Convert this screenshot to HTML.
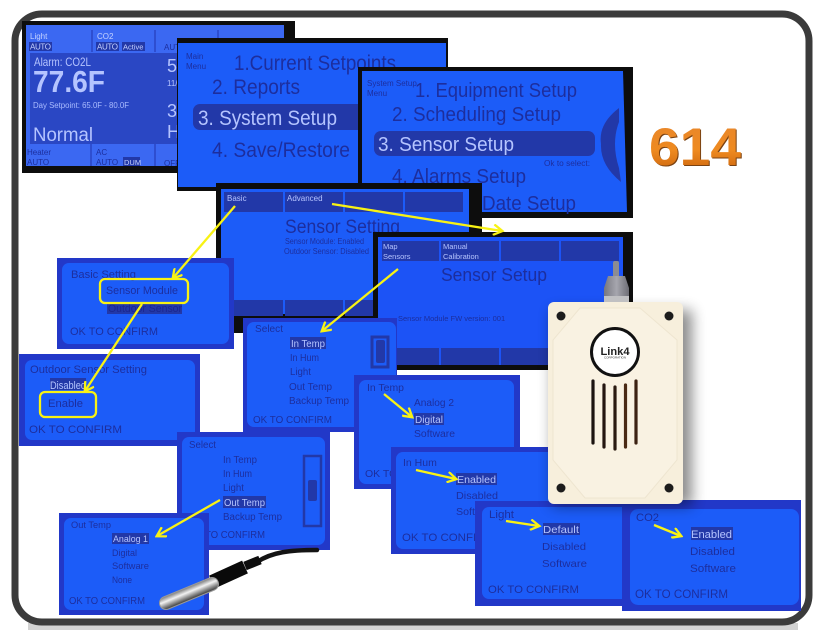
<!DOCTYPE html>
<html><head><meta charset="utf-8"><style>
html,body{margin:0;padding:0;background:#fff;width:837px;height:642px;overflow:hidden}
svg{display:block}
text{font-family:"Liberation Sans",sans-serif}
</style></head><body>
<svg width="837" height="642" viewBox="0 0 837 642" xmlns="http://www.w3.org/2000/svg">
<defs>
<linearGradient id="or" x1="0" y1="0" x2="0" y2="1"><stop offset="0" stop-color="#e8862c"/><stop offset=".55" stop-color="#ee8a20"/><stop offset="1" stop-color="#c45c08"/></linearGradient>
<linearGradient id="pr" gradientUnits="userSpaceOnUse" x1="185.500" y1="587" x2="190.500" y2="599"><stop offset="0" stop-color="#666"/><stop offset=".45" stop-color="#f2f2f2"/><stop offset="1" stop-color="#4a4a4a"/></linearGradient>
<linearGradient id="nut" x1="0" y1="0" x2="1" y2="0"><stop offset="0" stop-color="#77777f"/><stop offset=".5" stop-color="#a6a6ae"/><stop offset="1" stop-color="#6e6e76"/></linearGradient>
<filter id="sh" x="-20%" y="-20%" width="150%" height="150%"><feGaussianBlur stdDeviation="7"/></filter>
<filter id="b" x="0" y="0" width="100%" height="100%"><feGaussianBlur stdDeviation="0.35"/></filter>
<marker id="a" markerWidth="5" markerHeight="5" refX="4" refY="2.5" orient="auto" markerUnits="strokeWidth"><path d="M0.3 .2L4.2 2.5L.3 4.8" fill="none" stroke="#f8f214" stroke-width="1"/></marker>
</defs>
<rect x="28" y="623" width="770" height="7" fill="#d2d2d2"/>
<rect x="15" y="14" width="794" height="608" rx="27" fill="#fff" stroke="#3b3b3b" stroke-width="7"/>

<g filter="url(#b)">
<!-- Screen 1 -->
<rect x="22" y="21" width="273" height="152" fill="#0c0c10"/>
<rect x="26" y="25" width="258" height="141" fill="#3a68f2"/>
<rect x="30" y="53" width="250" height="91" fill="#2c46c4"/>
<path d="M92 30V52M155 30V52M218 30V52M91 144V166M155 144V166" stroke="#2c46c4" stroke-width="1.5"/>
<text x="30" y="39" font-size="8" fill="#c5d2ff">Light</text>
<rect x="29" y="42" width="23" height="9" fill="#2438a8"/><text x="30" y="49.5" font-size="8" fill="#c5d2ff" textLength="21">AUTO</text>
<text x="97" y="39" font-size="8" fill="#c5d2ff">CO2</text>
<rect x="96" y="42" width="23" height="9" fill="#2438a8"/><text x="97" y="49.5" font-size="8" fill="#c5d2ff" textLength="21">AUTO</text>
<rect x="122" y="42" width="23" height="9" fill="#2438a8"/><text x="123" y="49.5" font-size="7.5" fill="#c5d2ff">Active</text>
<text x="164" y="50" font-size="8" fill="#1e2f9e">AUTO</text>
<text x="34" y="66" font-size="12" fill="#b4c4ff" textLength="57" lengthAdjust="spacingAndGlyphs">Alarm: CO2L</text>
<text x="33" y="92" font-size="31" font-weight="bold" fill="#b4c4ff" textLength="72" lengthAdjust="spacingAndGlyphs">77.6F</text>
<text x="33" y="108" font-size="8" fill="#a9bcff" textLength="96" lengthAdjust="spacingAndGlyphs">Day Setpoint: 65.0F - 80.0F</text>
<text x="33" y="141" font-size="19" fill="#b4c4ff" textLength="60" lengthAdjust="spacingAndGlyphs">Normal</text>
<text x="167" y="72" font-size="18" fill="#b4c4ff">5</text>
<text x="167" y="86" font-size="8" fill="#b4c4ff">11/</text>
<text x="167" y="117" font-size="18" fill="#b4c4ff">3</text>
<text x="167" y="138" font-size="18" fill="#b4c4ff">H</text>
<text x="27" y="155" font-size="8" fill="#1e2f9e">Heater</text><text x="27" y="165" font-size="8" fill="#1e2f9e">AUTO</text>
<text x="96" y="155" font-size="8" fill="#1e2f9e">AC</text><text x="96" y="165" font-size="8" fill="#1e2f9e">AUTO</text>
<rect x="123" y="157" width="17" height="9" fill="#2438a8"/><text x="124" y="165" font-size="7.5" fill="#c5d2ff">DUM</text>
<text x="164" y="166" font-size="8" fill="#1e2f9e">OFF</text>

<!-- Screen 2 -->
<rect x="177" y="38" width="271" height="153" fill="#0c0c10"/>
<rect x="178" y="43" width="268" height="144" fill="#1f5cf8"/>
<text x="186" y="59" font-size="8" fill="#1e2f9e">Main</text><text x="186" y="69" font-size="8" fill="#1e2f9e">Menu</text>
<text x="234" y="70" font-size="21" fill="#1e2f9e" textLength="162" lengthAdjust="spacingAndGlyphs">1.Current Setpoints</text>
<text x="212" y="94" font-size="21" fill="#1e2f9e" textLength="88" lengthAdjust="spacingAndGlyphs">2. Reports</text>
<rect x="193" y="104" width="180" height="26" rx="7" fill="#2438a8"/>
<text x="198" y="125" font-size="21" fill="#b4c4ff" textLength="139" lengthAdjust="spacingAndGlyphs">3. System Setup</text>
<text x="212" y="157" font-size="21" fill="#1e2f9e" textLength="138" lengthAdjust="spacingAndGlyphs">4. Save/Restore</text>

<!-- Screen 3 -->
<rect x="358" y="67" width="275" height="151" fill="#0c0c10"/>
<path d="M362 71H623L627 212H362Z" fill="#1f5cf8"/>
<text x="367" y="86" font-size="8" fill="#1e2f9e">System Setup</text><text x="367" y="96" font-size="8" fill="#1e2f9e">Menu</text>
<text x="415" y="97" font-size="20" fill="#1e2f9e" textLength="162" lengthAdjust="spacingAndGlyphs">1. Equipment Setup</text>
<text x="392" y="121" font-size="20" fill="#1e2f9e" textLength="169" lengthAdjust="spacingAndGlyphs">2. Scheduling Setup</text>
<rect x="374" y="131" width="221" height="25" rx="7" fill="#2438a8"/>
<text x="378" y="151" font-size="20" fill="#b4c4ff" textLength="136" lengthAdjust="spacingAndGlyphs">3. Sensor Setup</text>
<text x="544" y="166" font-size="8" fill="#1e2f9e" textLength="46" lengthAdjust="spacingAndGlyphs">Ok to select:</text>
<text x="392" y="183" font-size="20" fill="#1e2f9e" textLength="134" lengthAdjust="spacingAndGlyphs">4. Alarms Setup</text>
<text x="482" y="210" font-size="20" fill="#1e2f9e" textLength="94" lengthAdjust="spacingAndGlyphs">Date Setup</text>
<path d="M619 108Q598 124 601 144Q600 165 621 182L619 168Q611 143 619 122Z" fill="#2438a8"/>

<!-- Screen 4 -->
<rect x="216" y="183" width="266" height="150" fill="#0c0c10"/>
<rect x="221" y="189" width="248" height="125" fill="#1f5cf8"/>
<rect x="224" y="192" width="59" height="20" fill="#2438a8"/>
<rect x="285" y="192" width="58" height="20" fill="#2438a8"/>
<rect x="345" y="192" width="58" height="20" fill="#2438a8"/>
<rect x="405" y="192" width="58" height="20" fill="#2438a8"/>
<text x="227" y="201" font-size="8" fill="#b4c4ff">Basic</text>
<text x="287" y="201" font-size="8" fill="#b4c4ff">Advanced</text>
<text x="285" y="233" font-size="19" fill="#1e2f9e" textLength="115" lengthAdjust="spacingAndGlyphs">Sensor Setting</text>
<text x="285" y="244" font-size="8" fill="#1e2f9e" textLength="79" lengthAdjust="spacingAndGlyphs">Sensor Module: Enabled</text>
<text x="284" y="254" font-size="8" fill="#1e2f9e" textLength="85" lengthAdjust="spacingAndGlyphs">Outdoor Sensor: Disabled</text>
<rect x="224" y="300" width="59" height="16" fill="#2438a8"/><rect x="285" y="300" width="58" height="16" fill="#2438a8"/><rect x="345" y="300" width="30" height="16" fill="#2438a8"/>

<!-- Screen 5 -->
<rect x="373" y="232" width="260" height="138" fill="#0c0c10"/>
<rect x="378" y="237" width="245" height="128" fill="#1a52f6"/>
<rect x="382" y="241" width="57" height="20" fill="#2438a8"/>
<rect x="441" y="241" width="58" height="20" fill="#2438a8"/>
<rect x="501" y="241" width="58" height="20" fill="#2438a8"/>
<rect x="561" y="241" width="58" height="20" fill="#2438a8"/>
<text x="383" y="249" font-size="7.500" fill="#b4c4ff">Map</text><text x="383" y="259" font-size="7.500" fill="#b4c4ff">Sensors</text>
<text x="443" y="249" font-size="7.500" fill="#b4c4ff">Manual</text><text x="443" y="259" font-size="7.500" fill="#b4c4ff">Calibration</text>
<text x="441" y="281" font-size="18" fill="#1e2f9e" textLength="106" lengthAdjust="spacingAndGlyphs">Sensor Setup</text>
<text x="398" y="321" font-size="7.500" fill="#1e2f9e">Sensor Module FW version: 001</text>
<rect x="382" y="348" width="57" height="17" fill="#2438a8"/><rect x="441" y="348" width="58" height="17" fill="#2438a8"/><rect x="501" y="348" width="58" height="17" fill="#2438a8"/>

<!-- Basic Setting -->
<rect x="57" y="258" width="177" height="91" fill="#2238c8"/>
<rect x="62" y="263" width="167" height="81" rx="7" fill="#1f5cf8"/>
<text x="71" y="278" font-size="11" fill="#1e2f9e" textLength="65" lengthAdjust="spacingAndGlyphs">Basic Setting</text>
<text x="106" y="294" font-size="11" fill="#1e2f9e" textLength="72" lengthAdjust="spacingAndGlyphs">Sensor Module</text>
<rect x="107" y="303" width="75" height="11" fill="#2438a8"/>
<text x="108" y="312" font-size="11" fill="#1a2890" textLength="74" lengthAdjust="spacingAndGlyphs">Outdoor Sensor</text>
<text x="70" y="335" font-size="11" fill="#1e2f9e" textLength="88" lengthAdjust="spacingAndGlyphs">OK TO CONFIRM</text>

<!-- Outdoor -->
<rect x="19" y="354" width="181" height="92" fill="#2238c8"/>
<rect x="25" y="360" width="170" height="80" rx="7" fill="#1f5cf8"/>
<text x="30" y="373" font-size="11" fill="#1e2f9e" textLength="117" lengthAdjust="spacingAndGlyphs">Outdoor Sensor Setting</text>
<rect x="50" y="378" width="36" height="12" fill="#2438a8"/>
<text x="50" y="389" font-size="11" fill="#b4c4ff" textLength="36" lengthAdjust="spacingAndGlyphs">Disabled</text>
<text x="48" y="407" font-size="11" fill="#1e2f9e" textLength="35" lengthAdjust="spacingAndGlyphs">Enable</text>
<text x="29" y="433" font-size="11" fill="#1e2f9e" textLength="93" lengthAdjust="spacingAndGlyphs">OK TO CONFIRM</text>

<!-- Select 1 -->
<rect x="243" y="318" width="154" height="114" fill="#2238c8"/>
<rect x="247" y="322" width="149" height="105" rx="7" fill="#1f5cf8"/>
<text x="255" y="332" font-size="10" fill="#1e2f9e" textLength="28" lengthAdjust="spacingAndGlyphs">Select</text>
<rect x="290" y="337" width="36" height="12" fill="#2438a8"/>
<text x="291" y="347" font-size="10" fill="#b4c4ff" textLength="34" lengthAdjust="spacingAndGlyphs">In Temp</text>
<text x="290" y="361" font-size="10" fill="#1e2f9e" textLength="29" lengthAdjust="spacingAndGlyphs">In Hum</text>
<text x="290" y="375" font-size="10" fill="#1e2f9e" textLength="21" lengthAdjust="spacingAndGlyphs">Light</text>
<text x="289" y="390" font-size="10" fill="#1e2f9e" textLength="43" lengthAdjust="spacingAndGlyphs">Out Temp</text>
<text x="289" y="404" font-size="10" fill="#1e2f9e" textLength="60" lengthAdjust="spacingAndGlyphs">Backup Temp</text>
<text x="253" y="423" font-size="10.500" fill="#1e2f9e" textLength="79" lengthAdjust="spacingAndGlyphs">OK TO CONFIRM</text>
<rect x="372" y="337" width="16" height="30" fill="none" stroke="#2438a8" stroke-width="3"/>
<rect x="376" y="340" width="9" height="23" rx="2" fill="#2438a8"/>

<!-- In Temp -->
<rect x="354" y="375" width="166" height="114" fill="#2238c8"/>
<rect x="359" y="380" width="155" height="104" rx="7" fill="#1f5cf8"/>
<text x="367" y="391" font-size="10" fill="#1e2f9e" textLength="37" lengthAdjust="spacingAndGlyphs">In Temp</text>
<text x="414" y="406" font-size="10" fill="#1e2f9e" textLength="40" lengthAdjust="spacingAndGlyphs">Analog 2</text>
<rect x="414" y="413" width="30" height="12" fill="#2438a8"/>
<text x="415" y="423" font-size="10" fill="#b4c4ff" textLength="28" lengthAdjust="spacingAndGlyphs">Digital</text>
<text x="414" y="437" font-size="10" fill="#1e2f9e" textLength="41" lengthAdjust="spacingAndGlyphs">Software</text>
<text x="365" y="477" font-size="10.500" fill="#1e2f9e">OK TO CONFIRM</text>

<!-- Select 2 -->
<rect x="177" y="432" width="153" height="118" fill="#2238c8"/>
<rect x="182" y="437" width="143" height="108" rx="7" fill="#1f5cf8"/>
<text x="189" y="448" font-size="10" fill="#1e2f9e" textLength="27" lengthAdjust="spacingAndGlyphs">Select</text>
<text x="223" y="463" font-size="10" fill="#1e2f9e" textLength="34" lengthAdjust="spacingAndGlyphs">In Temp</text>
<text x="223" y="477" font-size="10" fill="#1e2f9e" textLength="29" lengthAdjust="spacingAndGlyphs">In Hum</text>
<text x="223" y="491" font-size="10" fill="#1e2f9e" textLength="21" lengthAdjust="spacingAndGlyphs">Light</text>
<rect x="223" y="496" width="43" height="12" fill="#2438a8"/>
<text x="224" y="506" font-size="10" fill="#b4c4ff" textLength="41" lengthAdjust="spacingAndGlyphs">Out Temp</text>
<text x="223" y="520" font-size="10" fill="#1e2f9e" textLength="59" lengthAdjust="spacingAndGlyphs">Backup Temp</text>
<text x="189" y="538" font-size="10.500" fill="#1e2f9e" textLength="76" lengthAdjust="spacingAndGlyphs">OK TO CONFIRM</text>
<rect x="304" y="456" width="17" height="70" fill="none" stroke="#2438a8" stroke-width="2.500"/>
<rect x="308" y="480" width="9" height="21" rx="2" fill="#2438a8"/>

<!-- Out Temp -->
<rect x="59" y="513" width="150" height="102" fill="#2238c8"/>
<rect x="64" y="518" width="140" height="92" rx="7" fill="#1f5cf8"/>
<text x="71" y="528" font-size="9.500" fill="#1e2f9e" textLength="40" lengthAdjust="spacingAndGlyphs">Out Temp</text>
<rect x="112" y="533" width="37" height="11" fill="#2438a8"/>
<text x="113" y="542" font-size="9.500" fill="#b4c4ff" textLength="35" lengthAdjust="spacingAndGlyphs">Analog 1</text>
<text x="112" y="556" font-size="9.500" fill="#1e2f9e" textLength="25" lengthAdjust="spacingAndGlyphs">Digital</text>
<text x="112" y="569" font-size="9.500" fill="#1e2f9e" textLength="37" lengthAdjust="spacingAndGlyphs">Software</text>
<text x="112" y="583" font-size="9.500" fill="#1e2f9e" textLength="20" lengthAdjust="spacingAndGlyphs">None</text>
<text x="69" y="604" font-size="10" fill="#1e2f9e" textLength="76" lengthAdjust="spacingAndGlyphs">OK TO CONFIRM</text>

<!-- In Hum -->
<rect x="391" y="447" width="175" height="107" fill="#2238c8"/>
<rect x="396" y="452" width="170" height="97" rx="7" fill="#1f5cf8"/>
<text x="403" y="466" font-size="10.500" fill="#1e2f9e">In Hum</text>
<rect x="456" y="473" width="41" height="12" fill="#2438a8"/>
<text x="457" y="483" font-size="10.500" fill="#b4c4ff" textLength="39" lengthAdjust="spacingAndGlyphs">Enabled</text>
<text x="456" y="499" font-size="10.500" fill="#1e2f9e" textLength="42" lengthAdjust="spacingAndGlyphs">Disabled</text>
<text x="456" y="515" font-size="10.500" fill="#1e2f9e" textLength="42" lengthAdjust="spacingAndGlyphs">Software</text>
<text x="402" y="541" font-size="11" fill="#1e2f9e" textLength="92" lengthAdjust="spacingAndGlyphs">OK TO CONFIRM</text>

<!-- Light -->
<rect x="475" y="501" width="165" height="105" fill="#2238c8"/>
<rect x="482" y="507" width="150" height="92" rx="7" fill="#1f5cf8"/>
<text x="489" y="518" font-size="11" fill="#1e2f9e" textLength="25" lengthAdjust="spacingAndGlyphs">Light</text>
<rect x="543" y="523" width="37" height="12" fill="#2438a8"/>
<text x="543" y="533" font-size="10.500" fill="#b4c4ff" textLength="36" lengthAdjust="spacingAndGlyphs">Default</text>
<text x="542" y="550" font-size="10.500" fill="#1e2f9e" textLength="44" lengthAdjust="spacingAndGlyphs">Disabled</text>
<text x="542" y="567" font-size="10.500" fill="#1e2f9e" textLength="45" lengthAdjust="spacingAndGlyphs">Software</text>
<text x="488" y="593" font-size="11" fill="#1e2f9e" textLength="91" lengthAdjust="spacingAndGlyphs">OK TO CONFIRM</text>

<!-- CO2 -->
<rect x="622" y="500" width="179" height="111" fill="#2238c8"/>
<rect x="630" y="509" width="169" height="96" rx="8" fill="#1f5cf8"/>
<text x="636" y="521" font-size="11" fill="#1e2f9e" textLength="23" lengthAdjust="spacingAndGlyphs">CO2</text>
<rect x="691" y="527" width="42" height="13" fill="#2438a8"/>
<text x="691" y="538" font-size="11" fill="#b4c4ff" textLength="41" lengthAdjust="spacingAndGlyphs">Enabled</text>
<text x="690" y="555" font-size="11" fill="#1e2f9e" textLength="45" lengthAdjust="spacingAndGlyphs">Disabled</text>
<text x="690" y="572" font-size="11" fill="#1e2f9e" textLength="46" lengthAdjust="spacingAndGlyphs">Software</text>
<text x="635" y="598" font-size="11.500" fill="#1e2f9e" textLength="93" lengthAdjust="spacingAndGlyphs">OK TO CONFIRM</text>
</g>

<!-- 614 -->
<text x="650" y="166" font-size="53" font-weight="bold" fill="#7a4212" textLength="92" lengthAdjust="spacingAndGlyphs">614</text>
<text x="649" y="165" font-size="53" font-weight="bold" fill="url(#or)" textLength="92" lengthAdjust="spacingAndGlyphs">614</text>

<!-- Yellow -->
<g fill="none" stroke="#f8f214" stroke-width="2.300">
<rect x="100" y="279" width="88" height="24" rx="5"/>
<rect x="40" y="392" width="56" height="25" rx="5"/>
<line x1="235" y1="206" x2="173" y2="278" marker-end="url(#a)"/>
<line x1="332" y1="204" x2="502" y2="231" marker-end="url(#a)"/>
<line x1="398" y1="269" x2="322" y2="331" marker-end="url(#a)"/>
<line x1="142" y1="304" x2="85" y2="391" marker-end="url(#a)"/>
<line x1="384" y1="394" x2="412" y2="417" marker-end="url(#a)"/>
<line x1="220" y1="500" x2="157" y2="536" marker-end="url(#a)"/>
<line x1="416" y1="470" x2="456" y2="479" marker-end="url(#a)"/>
<line x1="506" y1="521" x2="539" y2="526" marker-end="url(#a)"/>
<line x1="654" y1="525" x2="681" y2="536" marker-end="url(#a)"/>
</g>

<!-- Device -->
<rect x="552" y="310" width="140" height="196" fill="#000" opacity=".45" filter="url(#sh)"/>
<rect x="613" y="261" width="6" height="18" rx="2" fill="#8c8c92"/>
<path d="M608 276H625L629 288V302H604V288Z" fill="url(#nut)"/>
<rect x="604" y="296" width="25" height="6" fill="#c0c0c2"/>
<rect x="548" y="302" width="135" height="202" rx="6" fill="#f7efdc"/>
<path d="M580 308H640L677 340V460L645 498H585L553 460V340Z" fill="#f9f2e2" stroke="#eee5d0" stroke-width="1"/>
<circle cx="561" cy="316" r="4.500" fill="#1c1c1c"/><circle cx="669" cy="316" r="4.500" fill="#1c1c1c"/>
<circle cx="561" cy="488" r="4.500" fill="#1c1c1c"/><circle cx="669" cy="488" r="4.500" fill="#1c1c1c"/>
<circle cx="615" cy="352" r="23.500" fill="#fff" stroke="#111" stroke-width="3"/>
<text x="615" y="355" font-size="11" font-weight="bold" text-anchor="middle" fill="#222" textLength="29" lengthAdjust="spacingAndGlyphs">Link4</text>
<text x="615" y="358.500" font-size="3" text-anchor="middle" fill="#333">CORPORATION</text>
<g stroke-width="3.200" stroke-linecap="round">
<line x1="593" y1="381" x2="593" y2="443" stroke="#1c1410"/>
<line x1="604" y1="385" x2="604" y2="447" stroke="#241610"/>
<line x1="615" y1="387" x2="615" y2="449" stroke="#2a1a10"/>
<line x1="625.500" y1="385" x2="625.500" y2="447" stroke="#4a2a14"/>
<line x1="636" y1="381" x2="636" y2="443" stroke="#3c2212"/>
</g>

<!-- Probe -->
<path d="M257 562C272 552 290 550 317 550" fill="none" stroke="#141414" stroke-width="4.500" stroke-linecap="round"/>
<line x1="245" y1="566" x2="260" y2="560" stroke="#0d0d0d" stroke-width="9"/>
<line x1="212" y1="582" x2="245" y2="567" stroke="#0a0a0a" stroke-width="14"/>
<line x1="166" y1="603" x2="212" y2="584" stroke="#999" stroke-width="14" stroke-linecap="round"/>
<line x1="166" y1="603" x2="212" y2="584" stroke="url(#pr)" stroke-width="12" stroke-linecap="round"/>
</svg>
</body></html>
